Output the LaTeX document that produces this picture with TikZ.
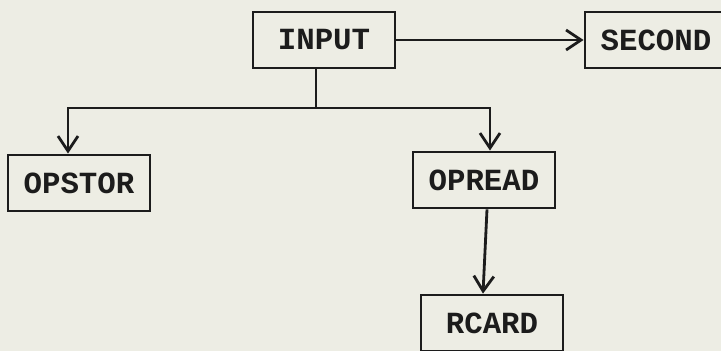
\documentclass[tikz,border=0pt]{standalone}
\usepackage{fontspec}
\setmonofont{Liberation Mono}
\usetikzlibrary{positioning}
\usetikzlibrary{arrows.meta}
\definecolor{paper}{RGB}{237,237,228}
\definecolor{ink}{RGB}{28,28,28}
\tikzset{>={Straight Barb[length=3mm,width=4mm]}}
\tikzset{
	% one box per routine
	prog/.style={draw=ink,line width=1.6pt,minimum width=2.84cm,minimum height=1.12cm,inner sep=0pt,
		font=\ttfamily\bfseries\fontsize{17.5}{20}\selectfont,text=ink},
	% calls between routines
	link/.style={draw=ink,line width=1.6pt,->},
	wire/.style={draw=ink,line width=1.6pt},
}

\begin{document}
\begin{tikzpicture}[x=0.02cm,y=-0.02cm]
	\fill[paper] (0,0) rectangle (721,351);
	\useasboundingbox (0,0) rectangle (721,351);
	
	\node[prog] (input) at (324,40) {INPUT};
	\node[prog] (second) at (656,40) {SECOND};
	\node[prog] (opstor) at (79,183) {OPSTOR};
	\node[prog] (opread) at (484,180) {OPREAD};
	\node[prog] (rcard) at (492,323) {RCARD};
	
	\draw[link] (input) -- (second);
	
	% fork below INPUT
	\coordinate (split) at (316,108);
	\draw[wire] (input.south -| split) -- (split);
	\draw[link] (split) -| ([xshift=-0.22cm]opstor.north);
	\draw[link] (split) -| ([xshift=0.12cm]opread.north);
	
	\draw[link] ([xshift=0.06cm]opread.south) -- ([xshift=-0.18cm]rcard.north);
	
\end{tikzpicture}
\end{document}
